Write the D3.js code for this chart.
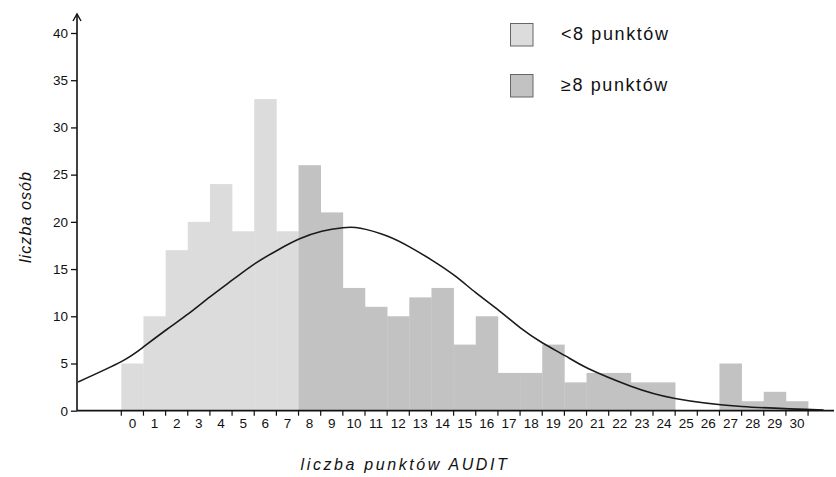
<!DOCTYPE html>
<html>
<head>
<meta charset="utf-8">
<script src="https://cdn.jsdelivr.net/npm/d3@7"></script>
<style>
  html, body { margin: 0; padding: 0; background: #fff; }
  svg { display: block; font-family: "Liberation Sans", Arial, sans-serif; }
</style>
</head>
<body>
<svg id="chart" width="836" height="477"></svg>
<script>
// ---- data ----
const scores = [0,1,2,3,4,5,6,7,8,9,10,11,12,13,14,15,16,17,18,19,20,21,22,23,24,25,26,27,28,29,30];
const counts = [5,10,17,20,24,19,33,19,26,21,13,11,10,12,13,7,10,4,4,7,3,4,4,3,3,0,0,5,1,2,1];
const threshold = 8;
const yTicks = [0,5,10,15,20,25,30,35,40];
// fitted normal curve (score, count)
const curveX = [-2.45,-0.5,0.5,1.55,2.55,3.5,4.55,5.55,6.55,7.55,8.55,9.5,10.3,11.5,12.55,13.55,14.55,15.5,16.55,17.5,18.5,19.55,20.55,22.5,24.5,27.5,31.2];
const curveY = [3.05,5.2,6.75,8.6,10.3,12.05,13.9,15.6,17.0,18.2,19.0,19.38,19.33,18.5,17.3,15.9,14.3,12.5,10.6,8.8,7.2,5.8,4.5,2.6,1.3,0.45,0.08];
const legendLabels = ["<8 punktów", "\u22658 punktów"];
const xTitle = "liczba punktów AUDIT";
const yTitle = "liczba osób";

// ---- styles ----
const colLow = "#dcdcdc", colHigh = "#c2c2c2";

const svg = d3.select("#chart");
const x = d3.scaleLinear().domain([-2.5, 31.67]).range([77, 834]);
const y = d3.scaleLinear().domain([0, 40]).range([410.7, 33]);

// bars
svg.append("g").selectAll("rect").data(scores).join("rect")
  .attr("x", d => x(d - 0.5))
  .attr("width", d => x(d + 0.5) - x(d - 0.5) + 0.3)
  .attr("y", (d, i) => y(counts[i]))
  .attr("height", (d, i) => y(0) - y(counts[i]))
  .attr("fill", d => d < threshold ? colLow : colHigh);

// curve
const line = d3.line().x(d => x(d[0])).y(d => y(d[1])).curve(d3.curveNatural);
svg.append("path")
  .datum(curveX.map((v, i) => [v, curveY[i]]))
  .attr("d", line)
  .attr("fill", "none")
  .attr("stroke", "#1a1a1a")
  .attr("stroke-width", 1.6);

// y axis
const yAxis = d3.axisLeft(y).tickValues(yTicks).tickSize(6).tickSizeOuter(0).tickPadding(3);
const gy = svg.append("g").attr("transform", `translate(${x(-2.5)},0)`).call(yAxis);
gy.select(".domain").remove();
gy.selectAll(".tick line").attr("stroke", "#111").attr("stroke-width", 1.3);
gy.selectAll(".tick text").attr("font-size", 13.5).attr("fill", "#111")
  .attr("font-family", "Liberation Sans, Arial, sans-serif");
svg.append("line")
  .attr("x1", x(-2.5)).attr("x2", x(-2.5))
  .attr("y1", y(0)).attr("y2", 14)
  .attr("stroke", "#111").attr("stroke-width", 1.6);
svg.append("path")
  .attr("d", `M${x(-2.5) - 4},${21} L${x(-2.5)},${14} L${x(-2.5) + 4},${21}`)
  .attr("fill", "none").attr("stroke", "#111").attr("stroke-width", 1.4);

// x axis
const edges = d3.range(-0.5, 31, 1);
svg.append("g").selectAll("line").data(edges).join("line")
  .attr("x1", d => x(d)).attr("x2", d => x(d))
  .attr("y1", y(0)).attr("y2", y(0) + 5)
  .attr("stroke", "#111").attr("stroke-width", 1.2);
svg.append("line")
  .attr("x1", x(-2.5)).attr("x2", x(31.67))
  .attr("y1", y(0)).attr("y2", y(0))
  .attr("stroke", "#111").attr("stroke-width", 1.8);
svg.append("g").selectAll("text").data(scores).join("text")
  .attr("x", d => x(d))
  .attr("y", y(0) + 17)
  .attr("text-anchor", "middle")
  .attr("font-size", 13.5)
  .attr("fill", "#111")
  .text(d => d);

// axis titles
svg.append("text")
  .attr("x", 405).attr("y", 470)
  .attr("text-anchor", "middle")
  .attr("font-size", 16).attr("font-style", "italic")
  .attr("letter-spacing", 2.6)
  .attr("fill", "#111")
  .text(xTitle);
svg.append("text")
  .attr("transform", "translate(31,217) rotate(-90)")
  .attr("text-anchor", "middle")
  .attr("font-size", 16).attr("font-style", "italic")
  .attr("letter-spacing", 1.1)
  .attr("fill", "#111")
  .text(yTitle);

// legend
const lg = svg.append("g").selectAll("g").data(legendLabels).join("g")
  .attr("transform", (d, i) => `translate(510,${23 + i * 51})`);
lg.append("rect")
  .attr("x", 0.5).attr("y", 0.5).attr("width", 22.5).attr("height", 22.5)
  .attr("fill", (d, i) => i === 0 ? colLow : colHigh)
  .attr("stroke", "#666").attr("stroke-width", 1);
lg.append("text")
  .attr("x", 51).attr("y", 17)
  .attr("font-size", 18)
  .attr("letter-spacing", 1.6)
  .attr("fill", "#111")
  .text(d => d);
</script>
</body>
</html>
